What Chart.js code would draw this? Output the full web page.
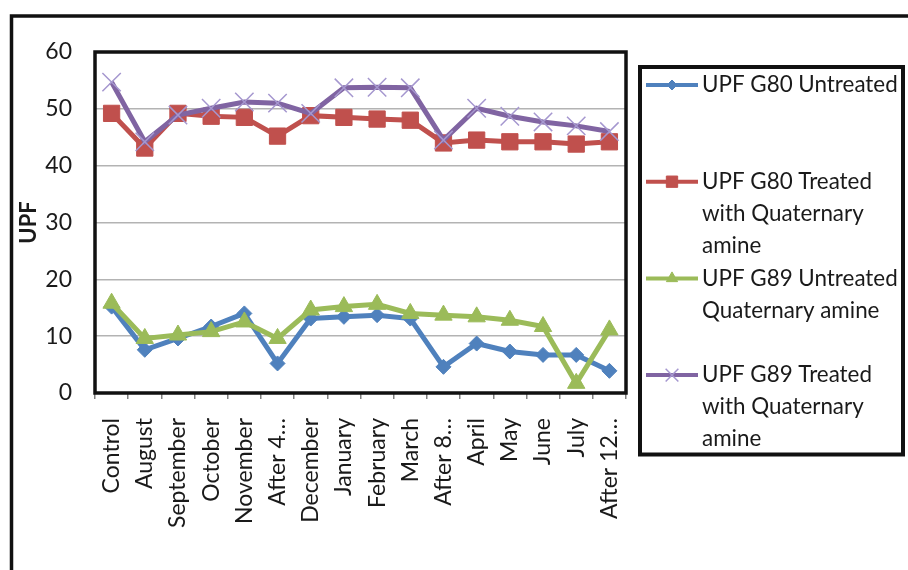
<!DOCTYPE html>
<html>
<head>
<meta charset="utf-8">
<script src="https://cdn.jsdelivr.net/npm/chart.js@4.4.0/dist/chart.umd.min.js"></script>
<style>
  html, body { margin: 0; padding: 0; background: #fff; }
  canvas { display: block; }
</style>
</head>
<body>
<canvas id="c" width="908" height="570"></canvas>
<script>
// Sampling points (category axis)
const categories = ['Control', 'August', 'September', 'October', 'November', 'After 4…',
  'December', 'January', 'February', 'March', 'After 8…', 'April', 'May', 'June', 'July', 'After 12…'];

// UPF values per series
const g80Untreated = [15.2, 7.6, 9.6, 11.7, 14.0, 5.2, 13.1, 13.4, 13.7, 13.1, 4.6, 8.7, 7.3, 6.7, 6.7, 3.9];
const g80Treated   = [49.2, 43.1, 49.2, 48.7, 48.5, 45.2, 48.8, 48.5, 48.2, 48.0, 44.0, 44.5, 44.2, 44.2, 43.8, 44.2];
const g89Untreated = [15.8, 9.6, 10.2, 10.8, 12.5, 9.6, 14.6, 15.2, 15.6, 14.0, 13.7, 13.4, 12.8, 11.7, 1.7, 11.1];
const g89Treated   = [54.7, 44.2, 48.9, 50.1, 51.2, 51.0, 49.2, 53.7, 53.8, 53.7, 44.5, 50.1, 48.7, 47.7, 47.0, 46.0];

// Value axis ticks
const yTicks = [0, 10, 20, 30, 40, 50, 60];

// Legend text, one array of lines per series
const legendLines = [
  ['UPF G80 Untreated'],
  ['UPF G80 Treated', 'with Quaternary', 'amine'],
  ['UPF G89 Untreated', 'Quaternary amine'],
  ['UPF G89 Treated', 'with Quaternary', 'amine']
];

const FONT = 'Lato';
const TEXT = '#1a1a1a';

function series(idx, values, color, style, radius, legendRadius, extra) {
  return Object.assign({
    label: legendLines[idx].join(' '),
    data: values,
    borderColor: color,
    backgroundColor: color,
    borderWidth: 5,
    pointStyle: style,
    pointRadius: radius,
    pointHoverRadius: radius,
    pointBackgroundColor: color,
    pointBorderColor: color,
    pointBorderWidth: 1,
    legendRadius: legendRadius,
    tension: 0,
    clip: false,
    order: 4 - idx
  }, extra || {});
}

const datasets = [
  series(0, g80Untreated, '#4F81BD', 'rectRot', 7.5, 5),
  series(1, g80Treated, '#C0504D', 'rect', 11.5, 8),
  series(2, g89Untreated, '#9BBB59', 'triangle', 10, 6.5),
  series(3, g89Treated, '#8064A2', 'crossRot', 13, 9, { pointBorderColor: '#a597cf', pointBorderWidth: 1.5 })
];

// Outer frame, plot border and the boxed legend
const decorations = {
  id: 'decorations',
  beforeDraw(chart) {
    const ctx = chart.ctx;
    ctx.save();
    ctx.fillStyle = '#fff';
    ctx.fillRect(0, 0, chart.width, chart.height);
    ctx.strokeStyle = '#111';
    ctx.lineWidth = 3.5;
    ctx.beginPath();
    ctx.moveTo(11.5, chart.height + 5);
    ctx.lineTo(11.5, 16);
    ctx.lineTo(chart.width + 5, 16);
    ctx.stroke();
    ctx.restore();
  },
  beforeDatasetsDraw(chart) {
    const { left, top, right, bottom } = chart.chartArea;
    const ctx = chart.ctx;
    ctx.save();
    ctx.strokeStyle = '#111';
    ctx.lineWidth = 3.5;
    ctx.strokeRect(left, top, right - left, bottom - top);
    ctx.restore();
  },
  afterDraw(chart) {
    const ctx = chart.ctx;
    ctx.save();
    ctx.strokeStyle = '#111';
    ctx.lineWidth = 4;
    ctx.strokeRect(640, 67, 263, 387.5);
    chart.data.datasets.forEach((ds, i) => {
      const y0 = 85 + 96.7 * i;
      ctx.strokeStyle = ds.borderColor;
      ctx.lineWidth = 4;
      ctx.beginPath();
      ctx.moveTo(646, y0);
      ctx.lineTo(698, y0);
      ctx.stroke();
      ctx.fillStyle = ds.pointBackgroundColor;
      ctx.strokeStyle = ds.pointBorderColor;
      ctx.lineWidth = ds.pointBorderWidth;
      Chart.helpers.drawPoint(ctx, {
        pointStyle: ds.pointStyle, radius: ds.legendRadius,
        borderWidth: ds.pointBorderWidth, rotation: 0
      }, 672, y0);
      ctx.fillStyle = TEXT;
      ctx.font = '22.4px ' + FONT;
      ctx.textBaseline = 'middle';
      ctx.textAlign = 'left';
      legendLines[i].forEach((t, k) => ctx.fillText(t, 702, y0 + k * 32));
    });
    ctx.restore();
  }
};

new Chart(document.getElementById('c'), {
  type: 'line',
  data: { labels: categories, datasets },
  plugins: [decorations],
  options: {
    responsive: false,
    animation: false,
    devicePixelRatio: 1,
    events: [],
    layout: { padding: { top: 52, right: 282, left: 0, bottom: 0 } },
    plugins: { legend: { display: false }, tooltip: { enabled: false } },
    scales: {
      x: {
        offset: true,
        grid: { offset: true, drawOnChartArea: false, drawTicks: true, tickLength: 6, color: '#7f7f7f', lineWidth: 1.5 },
        border: { display: false },
        ticks: { autoSkip: false, minRotation: 90, maxRotation: 90, padding: 19, color: TEXT, font: { family: FONT, size: 23 } },
        afterFit(s) { s.height = 177; }
      },
      y: {
        min: 0,
        max: 60,
        afterBuildTicks(s) { s.ticks = yTicks.map(v => ({ value: v })); },
        grid: { color: '#b3b3b3', lineWidth: 1.5, drawTicks: false },
        border: { display: false },
        ticks: { padding: 23, color: TEXT, font: { family: FONT, size: 23 } },
        title: {
          display: true, text: 'UPF', color: TEXT,
          font: { family: FONT, size: 22, weight: 'bold' },
          padding: { top: 16, bottom: 0 }
        },
        afterFit(s) { s.width = 95; }
      }
    }
  }
});
</script>
</body>
</html>
